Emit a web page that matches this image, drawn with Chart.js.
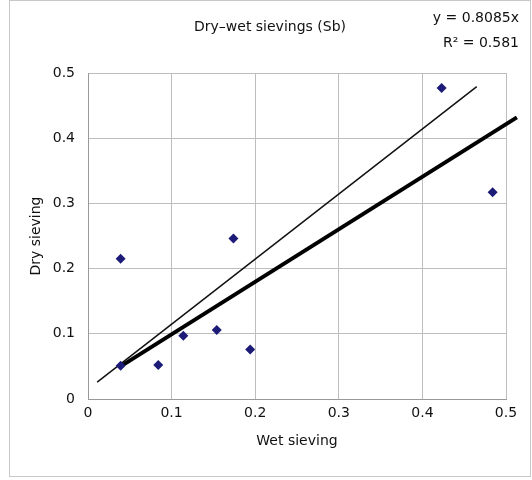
<!DOCTYPE html>
<html>
<head>
<meta charset="utf-8">
<script src="https://cdn.jsdelivr.net/npm/chart.js@4/dist/chart.umd.min.js"></script>
<style>
  html, body { margin: 0; padding: 0; background: #fff; }
  #wrap { width: 532px; height: 480px; position: relative; }
</style>
</head>
<body>
<div id="wrap"><canvas id="sieveChart" width="532" height="480"></canvas></div>
<script>
// measured points (wet sieving, dry sieving)
let wetValues = [0.039, 0.039, 0.084, 0.114, 0.154, 0.174, 0.194, 0.423, 0.484];
let dryValues = [0.215, 0.051, 0.052, 0.097, 0.106, 0.246, 0.076, 0.477, 0.317];

// 1:1 reference line and trend line end points
let oneToOneX = [0.011, 0.465];
let oneToOneY = [0.026, 0.479];
let trendX = [0.039, 0.513];
let trendY = [0.050, 0.432];

let tickValues = [0, 0.1, 0.2, 0.3, 0.4, 0.5];

let chartTitle = "Dry\u2013wet sievings (Sb)";
let equationLines = ["y = 0.8085x", "R\u00b2 = 0.581"];

function toPoints(xs, ys) {
    return xs.map((x, i) => ({ x: x, y: ys[i] }));
}

const fontFamily = "'DejaVu Sans', sans-serif";

// draws the frame around the chart plus the title and the equation text
const decorations = {
    id: 'decorations',
    beforeDraw(chart) {
        let ctx = chart.ctx;
        ctx.save();
        ctx.strokeStyle = "#c8c8c8";
        ctx.lineWidth = 1;
        ctx.strokeRect(9.5, 0.5, 521, 476);
        ctx.restore();
    },
    afterDraw(chart) {
        let ctx = chart.ctx;
        ctx.save();
        ctx.fillStyle = "#111";
        ctx.font = "14px " + fontFamily;
        ctx.textAlign = "center";
        ctx.textBaseline = "middle";
        ctx.fillText(chartTitle, 270, 27);
        ctx.textAlign = "right";
        ctx.fillText(equationLines[0], 519, 18);
        ctx.fillText(equationLines[1], 519, 43);
        ctx.restore();
    }
};

let ctx = document.getElementById("sieveChart").getContext("2d");

let sieveChart = new Chart(ctx, {
    type: 'scatter',
    data: {
        datasets: [
            {
                label: "Samples",
                data: toPoints(wetValues, dryValues),
                pointStyle: 'rectRot',
                pointRadius: 5,
                backgroundColor: "#1c1c78",
                borderColor: "#1c1c78",
                borderWidth: 0,
                order: 0
            },
            {
                label: "1:1",
                type: 'line',
                data: toPoints(oneToOneX, oneToOneY),
                borderColor: "#111",
                borderWidth: 1.5,
                pointRadius: 0,
                fill: false,
                order: 2
            },
            {
                label: "Trend",
                type: 'line',
                data: toPoints(trendX, trendY),
                borderColor: "#000",
                borderWidth: 4,
                pointRadius: 0,
                fill: false,
                clip: false,
                order: 1
            }
        ]
    },
    options: {
        responsive: false,
        animation: false,
        layout: {
            padding: { left: 10, right: 26, top: 73, bottom: 0 }
        },
        plugins: {
            legend: { display: false },
            tooltip: { enabled: false }
        },
        scales: {
            x: {
                type: 'linear',
                min: 0,
                max: 0.5,
                afterBuildTicks: (axis) => { axis.ticks = tickValues.map(v => ({ value: v })); },
                afterFit: (axis) => { axis.height = 81; },
                grid: { color: "#bdbdbd", lineWidth: 1, drawTicks: false },
                border: { color: "#999", width: 1 },
                ticks: {
                    padding: 6,
                    color: "#111",
                    font: { family: fontFamily, size: 14 },
                    callback: (v) => String(v)
                },
                title: {
                    display: true,
                    text: "Wet sieving",
                    color: "#111",
                    font: { family: fontFamily, size: 14 },
                    padding: { top: 0, bottom: 30 }
                }
            },
            y: {
                type: 'linear',
                min: 0,
                max: 0.5,
                afterBuildTicks: (axis) => { axis.ticks = tickValues.map(v => ({ value: v })); },
                afterFit: (axis) => { axis.width = 78; },
                grid: { color: "#bdbdbd", lineWidth: 1, drawTicks: false },
                border: { color: "#999", width: 1 },
                ticks: {
                    padding: 13,
                    color: "#111",
                    font: { family: fontFamily, size: 14 },
                    callback: (v) => String(v)
                },
                title: {
                    display: true,
                    text: "Dry sieving",
                    color: "#111",
                    font: { family: fontFamily, size: 14 },
                    padding: { top: 18, bottom: 0 }
                }
            }
        }
    },
    plugins: [decorations]
});
</script>
</body>
</html>
